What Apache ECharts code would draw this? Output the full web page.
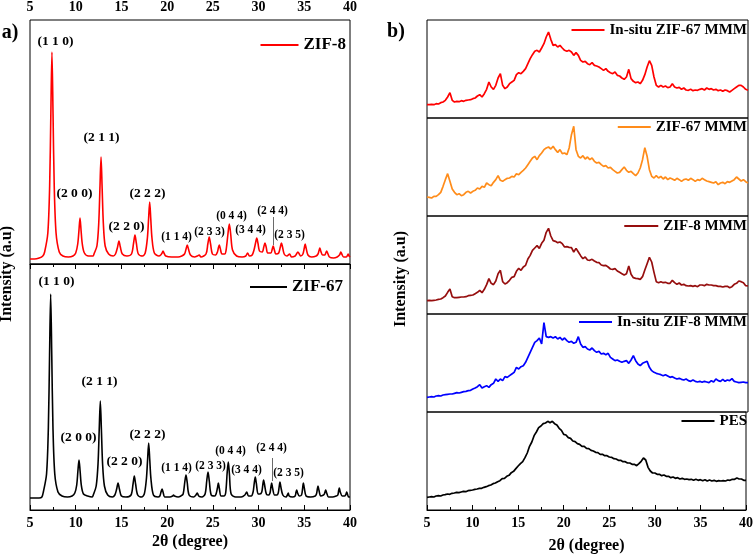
<!DOCTYPE html>
<html><head><meta charset="utf-8">
<script src="https://cdn.jsdelivr.net/npm/echarts/dist/echarts.min.js"></script>
<style>html,body{margin:0;padding:0;background:#fff}#c{width:756px;height:558px}</style>
</head><body><div id="c"></div>
<script>
// ---------- Panel a: simulated patterns (2θ, intensity a.u.) ----------
const zif8 = [[5,5],[5.5,5],[6,6],[6.4,8],
[6.6,12],[6.95,31],[7.15,78],[7.28,150],[7.4,212],[7.52,150],[7.65,78],[7.85,31],[8.2,12],
[8.6,8],[9.2,7],[9.7,8],
[10.0,11],[10.22,20],[10.35,33],[10.47,46],[10.59,33],[10.72,20],[10.95,11],
[11.4,8],[11.9,8],
[12.0,10],[12.32,18],[12.52,41],[12.65,76],[12.77,107],[12.89,76],[13.02,41],[13.22,18],[13.6,10],
[14.1,8],
[14.35,10],[14.58,17],[14.73,23],[14.88,17],[15.1,10],
[15.6,8],
[16.1,10],[16.33,21],[16.48,29],[16.63,21],[16.85,10],
[17.3,8],
[17.6,11],[17.84,26],[17.97,45],[18.09,62],[18.21,45],[18.34,26],[18.6,11],
[19.1,8],
[19.3,9],[19.45,11],[19.55,13],[19.65,11],[19.85,8],
[20.5,7],[21.2,7],[21.6,8],
[21.9,10],[22.07,15],[22.2,19],[22.33,15],[22.55,9],
[23.0,7],[23.3,8],[23.5,9],[23.7,7],
[24.25,10],[24.45,20],[24.6,27],[24.75,20],[24.95,10],
[25.3,9],
[25.5,12],[25.6,16],[25.7,19],[25.8,16],[26.0,10],
[26.3,10],
[26.45,14],[26.65,30],[26.8,40],[26.95,30],[27.15,14],
[27.6,8],[28.2,7],[28.6,8],
[28.8,11],[29.0,8],[29.3,9],
[29.5,14],[29.67,21],[29.8,26],[29.93,21],[30.1,13],
[30.4,12],[30.57,17],[30.7,21],[30.83,17],[31.0,11],
[31.35,11],[31.5,15],[31.6,18],[31.7,15],[31.9,10],
[32.2,11],[32.38,17],[32.5,21],[32.62,17],[32.8,10],
[33.1,8],[33.4,10],[33.6,7],
[34.0,8],[34.15,10],[34.3,12],[34.45,10],[34.6,8],
[34.85,10],[35.0,16],[35.1,20],[35.2,16],[35.4,9],
[35.8,7],[36.3,8],
[36.5,10],[36.6,13],[36.7,16],[36.8,13],[37.0,9],
[37.25,9],[37.35,11],[37.45,13],[37.55,11],[37.75,7],
[38.2,6],[38.6,7],
[38.85,9],[38.95,11],[39.0,12],[39.1,10],[39.3,7],
[39.6,7],[39.75,9],[39.8,10],[39.9,8],[40,7]];

const zif67 = [[5,12],[5.5,12],[6,12],[6.3,13],
[6.46,18],[6.81,36],[7.01,83],[7.14,155],[7.26,216],[7.38,155],[7.51,83],[7.71,36],[8.06,18],
[8.5,14],[9.1,13],[9.6,14],
[9.9,17],[10.11,25],[10.24,39],[10.36,50],[10.48,39],[10.61,25],[10.85,16],
[11.3,14],[11.8,13],
[11.92,15],[12.24,24],[12.44,46],[12.57,80],[12.69,109],[12.81,80],[12.94,46],[13.14,24],[13.5,15],
[14.0,13],
[14.28,15],[14.48,21],[14.63,27],[14.78,21],[15.0,14],
[15.5,13],
[16.05,15],[16.27,26],[16.41,34],[16.55,26],[16.78,15],
[17.2,13],
[17.5,16],[17.73,31],[17.86,50],[17.98,67],[18.1,50],[18.23,31],[18.5,15],
[19.0,13],
[19.2,14],[19.33,18],[19.44,21],[19.55,18],[19.75,13],
[20.3,13],[20.6,14],[20.7,15],[20.8,14],[21.2,13],[21.5,14],
[21.75,16],[21.93,28],[22.06,35],[22.19,28],[22.4,15],
[22.9,13],[23.15,15],[23.3,17],[23.45,14],[23.8,13],
[24.15,16],[24.33,29],[24.47,38],[24.61,29],[24.82,15],
[25.2,14],
[25.35,16],[25.5,22],[25.6,27],[25.7,22],[25.9,14],
[26.2,14],
[26.4,17],[26.57,38],[26.69,48],[26.81,36],[27.0,16],
[27.5,13],[28.1,13],[28.5,15],
[28.7,18],[28.9,14],[29.2,14],
[29.4,18],[29.53,27],[29.64,33],[29.75,27],[29.95,16],
[30.15,16],
[30.35,18],[30.46,25],[30.55,30],[30.66,25],[30.85,16],
[31.1,15],
[31.25,17],[31.35,23],[31.43,27],[31.53,22],[31.75,15],
[32.0,15],
[32.15,17],[32.25,23],[32.34,28],[32.44,23],[32.65,15],
[33.0,13],[33.15,15],[33.25,17],[33.35,14],[33.7,13],
[34.0,14],[34.1,18],[34.17,20],[34.27,17],[34.45,14],
[34.7,15],[34.82,22],[34.9,27],[35.0,22],[35.2,14],
[35.7,13],[36.2,14],
[36.33,16],[36.43,21],[36.5,24],[36.6,20],[36.8,14],
[37.1,15],
[37.2,16],[37.3,19],[37.34,20],[37.45,17],[37.65,13],
[38.1,13],[38.5,14],
[38.67,15],[38.77,20],[38.83,22],[38.93,18],[39.15,14],
[39.4,14],
[39.52,15],[39.6,17],[39.64,18],[39.72,16],[39.85,13],[40,13]];

const hkl = ['(1 1 0)','(2 0 0)','(2 1 1)','(2 2 0)','(2 2 2)','(1 1 4)','(2 3 3)','(0 4 4)','(3 4 4)','(2 4 4)','(2 3 5)'];
const zif8LabelAt = [[7.84,222],[9.92,70],[12.88,126],[15.61,37],[17.9,70],[21.08,26],[24.69,31],[27.09,47],[29.17,33],[31.58,52],[33.44,28]];
const zif67LabelAt = [[7.95,228],[10.36,72],[12.66,128],[15.39,48],[17.9,75],[21.08,41],[24.8,43],[26.98,58],[28.73,39],[31.47,61],[33.33,36]];
const zif8Leader = [[31.58,47],[31.58,19]];
const zif67Leader = [[31.47,52],[31.47,29]];

// ---------- Panel b: membrane patterns, shared 2θ grid ----------
const thetaB = [5,5.25,5.5,5.75,6,6.25,6.5,6.75,7,7.25,7.5,7.75,8,8.25,8.5,8.75,9,9.25,9.5,9.75,10,10.25,10.5,10.75,11,11.25,11.5,11.75,12,12.25,12.5,12.75,13,13.25,13.5,13.75,14,14.25,14.5,14.75,15,15.25,15.5,15.75,16,16.25,16.5,16.75,17,17.25,17.5,17.75,18,18.25,18.5,18.75,19,19.25,19.5,19.75,20,20.25,20.5,20.75,21,21.25,21.5,21.75,22,22.25,22.5,22.75,23,23.25,23.5,23.75,24,24.25,24.5,24.75,25,25.25,25.5,25.75,26,26.25,26.5,26.75,27,27.25,27.5,27.75,28,28.25,28.5,28.75,29,29.25,29.5,29.75,30,30.25,30.5,30.75,31,31.25,31.5,31.75,32,32.25,32.5,32.75,33,33.25,33.5,33.75,34,34.25,34.5,34.75,35,35.25,35.5,35.75,36,36.25,36.5,36.75,37,37.25,37.5,37.75,38,38.25,38.5,38.75,39,39.25,39.5,39.75,40];

const insituZif67 = [40,40,41,40,43,42,46,48, 53,63,76,53,48,50,49,52, 50,53,54,55,58,60,66,70, 63,73,86,108,93,86,98,120,
133,98,88,93,103,108,113,130, 136,133,140,148,163,178,190,200, 203,198,210,223,243,258,236,218, 220,213,218,210,203,200,203,198,
188,196,188,173,168,170,163,160, 166,158,156,153,148,143,148,140, 136,133,138,128,126,120,116,123, 146,118,110,106,108,103,113,130,
153,172,158,123,98,93,98,93, 96,91,93,103,93,90,92,86, 90,84,83,86,82,84,83,86, 88,84,90,86,88,84,86,82,
84,80,84,82,78,83,88,93, 98,98,93,86,83];

const zif67Mmm = [57,56,54,59,59,64,71,89, 109,127,104,81,71,64,67,61, 64,71,74,69,74,77,84,81, 89,86,99,94,91,101,109,121,
107,104,109,113,114,119,117,127, 124,131,137,144,154,164,174,179, 169,181,189,199,204,207,201,209, 199,191,199,187,189,184,204,244,
269,199,179,174,181,171,177,169, 174,164,159,161,154,149,151,144, 146,139,134,129,131,139,147,137, 131,134,127,121,129,144,169,205,
179,139,119,114,121,114,119,111, 117,109,114,111,107,113,109,104, 109,111,107,113,109,104,109,107, 113,109,105,103,101,99,103,94,
99,101,97,103,101,105,109,117, 111,105,109,103,99];

const zif8Mmm = [40,41,40,41,42,44,45,49, 54,65,75,52,49,49,50,51, 51,52,55,56,57,61,65,71, 64,74,88,106,92,88,99,121,
131,97,90,94,101,110,112,128, 137,131,141,146,165,176,191,198, 205,197,212,221,245,257,234,220, 218,214,216,211,201,202,200,199,
186,197,186,175,166,171,162,161, 164,159,155,154,147,145,146,141, 135,134,136,129,125,121,117,121, 144,119,109,107,106,104,112,132,
151,170,156,125,97,94,97,94, 95,92,92,101,94,89,93,87, 89,85,84,85,83,85,82,87, 87,85,89,87,87,85,85,83,
83,81,83,83,79,82,89,92, 99,97,94,85,84];

const insituZif8 = [44,45,46,45,48,49,48,51, 52,53,54,54,56,58,57,59, 61,62,64,65,69,72,76,82, 72,76,79,74,82,86,99,92,
99,94,106,104,109,114,119,134, 129,136,139,149,164,179,194,209, 214,222,204,268,226,224,226,222, 226,219,224,216,222,214,209,212,
206,209,226,204,194,196,189,186, 192,184,179,182,174,176,172,176, 164,159,154,156,152,149,152,154, 146,156,169,154,144,139,146,149,
152,134,124,119,116,114,112,109, 112,108,104,106,102,99,101,98, 96,99,94,92,96,92,90,92, 89,92,90,88,94,90,99,94,
92,98,92,96,94,100,92,90, 88,89,90,88,88];

const pes = [38,39,40,39,42,43,42,45, 46,48,47,50,51,53,52,54, 56,55,58,59,60,62,63,65, 65,68,70,73,75,79,81,85,
88,94,95,101,104,112,116,124, 132,139,145,157,171,191,204,223, 234,247,252,259,261,266,262,266, 259,255,245,239,227,225,217,215,
207,205,199,197,191,191,185,184, 179,177,173,172,167,167,163,163, 159,158,154,153,149,149,145,145, 141,141,137,137,133,139,146,156,
150,128,117,111,111,107,107,103, 105,101,101,97,99,95,97,93, 95,92,93,91,92,89,92,89, 91,88,91,87,90,87,89,86,
88,87,88,87,90,89,92,92, 96,93,93,89,89];

const seriesB = [
  {name:'In-situ ZIF-67 MMM', y: insituZif67, color:'#ff0000'},
  {name:'ZIF-67 MMM', y: zif67Mmm, color:'#ff8c1a'},
  {name:'ZIF-8 MMM', y: zif8Mmm, color:'#960e0e'},
  {name:'In-situ ZIF-8 MMM', y: insituZif8, color:'#0000ff'},
  {name:'PES', y: pes, color:'#000000'}
];

// ---------- Chart ----------
const F = "'Liberation Serif', 'Times New Roman', Times, serif";
const chart = echarts.init(document.getElementById('c'), null, {renderer:'canvas'});

const tickLabel = {fontFamily:F, fontWeight:'bold', fontSize:14, color:'#000', margin:6};
function xAx(grid, opts) {
  return Object.assign({
    type:'value', gridIndex:grid, min:5, max:40, interval:5,
    axisLine:{show:false}, axisTick:{show:false}, axisLabel:{show:false},
    splitLine:{show:false}, minorTick:{show:false}
  }, opts || {});
}
const labeled = (pos, name, gap) => ({
  position: pos,
  axisLine:{show:true, lineStyle:{color:'#000', width:1}},
  axisTick:{show:true, inside:true, length:5, lineStyle:{color:'#000', width:1}},
  minorTick:{show:true, splitNumber:2, length:3, lineStyle:{color:'#000', width:1}},
  axisLabel: tickLabel,
  name: name || '', nameLocation:'middle', nameGap: gap || 0,
  nameTextStyle:{fontFamily:F, fontWeight:'bold', fontSize:16, color:'#000'}
});

const grids = [
  {left:30, top:20, width:320, height:244},
  {left:30, top:264, width:320, height:246}
];
const bTops = [20,118,216,314,412];
bTops.forEach(t => grids.push({left:427, top:t, width:321, height:98}));
grids.forEach(g => { g.show = true; g.borderColor = '#000'; g.borderWidth = 1; g.backgroundColor = 'transparent'; });

const xAxes = [
  xAx(0, labeled('top')),
  xAx(1, labeled('bottom', '2θ (degree)', 24)),
  xAx(2), xAx(3), xAx(4), xAx(5),
  xAx(6, labeled('bottom', '2θ (degree)', 28))
];
const yMax = [244, 246, 294, 294, 294, 294, 294];
const yAxes = yMax.map((m,i) => ({type:'value', gridIndex:i, min:0, max:m, show:false}));

function labelSeries(axis, at, leader) {
  return {
    type:'scatter', xAxisIndex:axis, yAxisIndex:axis, symbol:'circle', symbolSize:1, silent:true, animation:false,
    itemStyle:{color:'rgba(0,0,0,0)'},
    data: at.map((p,i) => ({value:p, name:hkl[i],
      label:{show:true, position:[0,0], align:'center', verticalAlign:'middle', formatter:hkl[i],
        color:'#000', opacity:1, fontFamily:F, fontWeight:'bold', fontSize: i < 5 ? 13.5 : 11.5}})),
    markLine:{silent:true, symbol:'none', animation:false, label:{show:false},
      lineStyle:{color:'#444', width:0.8, type:'solid'},
      data:[[{coord:leader[0]},{coord:leader[1]}]]}
  };
}

const series = [
  {type:'line', name:'ZIF-8', xAxisIndex:0, yAxisIndex:0, data:zif8, showSymbol:false, symbol:'none',
   smooth:0.3, color:'#ff0000', itemStyle:{color:'#ff0000'}, lineStyle:{color:'#ff0000', width:1.6}, animation:false},
  {type:'line', name:'ZIF-67', xAxisIndex:1, yAxisIndex:1, data:zif67, showSymbol:false, symbol:'none',
   smooth:0.3, color:'#000', itemStyle:{color:'#000'}, lineStyle:{color:'#000', width:1.6}, animation:false},
  labelSeries(0, zif8LabelAt, zif8Leader),
  labelSeries(1, zif67LabelAt, zif67Leader)
];
seriesB.forEach((s,i) => {
  series.push({type:'line', name:s.name, xAxisIndex:i+2, yAxisIndex:i+2,
    data: thetaB.map((x,j) => [x, s.y[j]]), showSymbol:false, symbol:'none',
    color:s.color, itemStyle:{color:s.color}, lineStyle:{color:s.color, width:1.7}, animation:false});
});

const legText16 = {fontFamily:F, fontWeight:'bold', fontSize:17, color:'#000', lineHeight:18};
const legText15 = {fontFamily:F, fontWeight:'bold', fontSize:15, color:'#000', lineHeight:18};
const legend = [
  {data:['ZIF-8'], right:410, top:36, icon:'rect', itemWidth:38, itemHeight:2, padding:0, textStyle:legText16, selectedMode:false},
  {data:['ZIF-67'], right:413, top:278, icon:'rect', itemWidth:37, itemHeight:2, padding:0, textStyle:legText16, selectedMode:false}
];
const bLegTop = [21, 118, 217, 313, 412];
const bLegW = [33, 33, 34, 33, 33];
seriesB.forEach((s,i) => legend.push({data:[s.name], right:9, top:bLegTop[i], icon:'rect', itemWidth:bLegW[i], itemHeight:2,
  padding:0, textStyle:legText15, selectedMode:false}));

const txt = (x, y, text, size, rot) => ({type:'text', x:x, y:y, rotation:rot || 0, silent:true,
  style:{text:text, fontFamily:F, fontWeight:'bold', fontSize:size, fill:'#000',
    align:'center', verticalAlign:'middle', textAlign:'center', textVerticalAlign:'middle'}});

chart.setOption({
  animation:false,
  backgroundColor:'#fff',
  grid:grids, xAxis:xAxes, yAxis:yAxes, series:series, legend:legend,
  graphic:[
    txt(7, 274, 'Intensity (a.u)', 16, Math.PI/2),
    txt(401, 279, 'Intensity (a.u)', 16, Math.PI/2),
    txt(10, 33, 'a)', 20),
    txt(396, 32, 'b)', 20)
  ]
});
</script></body></html>
